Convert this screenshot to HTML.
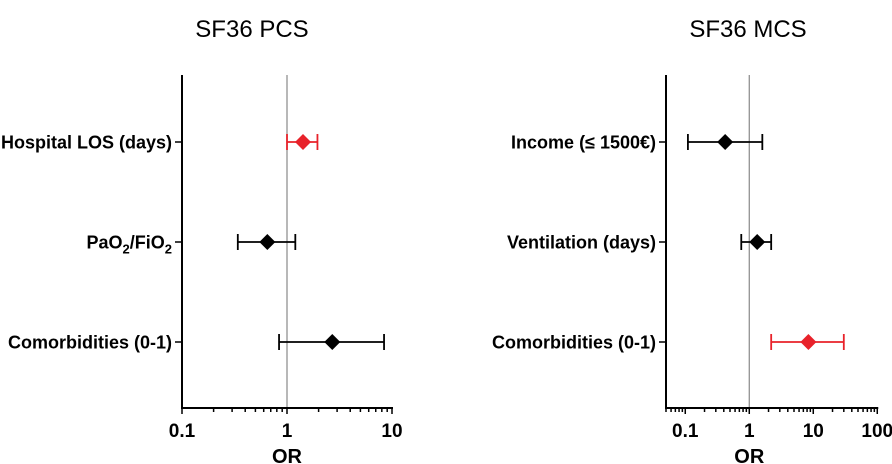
<!DOCTYPE html>
<html><head><meta charset="utf-8"><style>
body{margin:0;background:#fff;}
svg{display:block;font-family:"Liberation Sans",Arial,sans-serif;}
</style></head><body>
<svg id="c" width="892" height="464"></svg>
<script>
const pcsCategories=["Hospital LOS (days)","PaO2/FiO2","Comorbidities (0-1)"];
const pcsOR=[1.42,0.65,2.7];
const pcsLow=[1.0,0.34,0.84];
const pcsHigh=[1.95,1.2,8.4];
const pcsRed=[true,false,false];
const pcsTicks=[0.1,1,10];
const mcsCategories=["Income (≤ 1500€)","Ventilation (days)","Comorbidities (0-1)"];
const mcsOR=[0.42,1.33,8.4];
const mcsLow=[0.11,0.75,2.2];
const mcsHigh=[1.6,2.2,30];
const mcsRed=[false,false,true];
const mcsTicks=[0.1,1,10,100];

const NS="http://www.w3.org/2000/svg";
const svg=document.getElementById('c');
function mk(tag,attrs,parent){const e=document.createElementNS(NS,tag);for(const k in attrs)e.setAttribute(k,attrs[k]);(parent||svg).appendChild(e);return e;}
const rowsY=[142,242,342];
const yTop=75,yBase=408;

function panel(cfg){
  const g=mk('g',{});
  
  
  const xs=v=>cfg.x0+(Math.log10(v)-Math.log10(cfg.min))*cfg.dec;
  const xAxisStart=cfg.x0, xAxisEnd=xs(cfg.max);
  const t=mk('text',{x:cfg.titleX,y:37,'font-size':24,'text-anchor':'middle',fill:'#000'},g);
  t.textContent=cfg.title;
  
  
  const r=mk('line',{x1:xs(1),x2:xs(1),y1:yTop,y2:yBase,stroke:'#888','stroke-width':1.2},g);
  
  
  const ya=mk('line',{x1:xAxisStart,x2:xAxisStart,y1:yTop,y2:yBase+1,stroke:'#000','stroke-width':2},g);
  
  
  const xa=mk('line',{x1:xAxisStart-1,x2:xAxisEnd+1,y1:yBase,y2:yBase,stroke:'#000','stroke-width':2},g);
  
  
  for(let d=Math.floor(Math.log10(cfg.min));d<Math.log10(cfg.max);d++){
    for(let m=1;m<=9;m++){const v=m*Math.pow(10,d);if(v<cfg.min-1e-9||v>cfg.max+1e-9)continue;
      const major=(m===1);
      const tk=mk('line',{x1:xs(v),x2:xs(v),y1:yBase,y2:yBase+(major?6:4),stroke:'#000','stroke-width':1.5},g);
      
      }
  }
  const te=mk('line',{x1:xs(cfg.max),x2:xs(cfg.max),y1:yBase,y2:yBase+6,stroke:'#000','stroke-width':1.5},g);
  
  
  cfg.ticks.forEach(v=>{
    const l=mk('text',{x:xs(v),y:437,'font-size':19,'font-weight':'bold','text-anchor':'middle'},g);
    l.textContent=String(v);
    
    
  });
  const ot=mk('text',{x:xs(1),y:463,'font-size':20,'font-weight':'bold','text-anchor':'middle'},g);
  ot.textContent='OR';
  
  
  cfg.cats.forEach((c,i)=>{
    const y=rowsY[i];
    const tk=mk('line',{x1:xAxisStart-7,x2:xAxisStart,y1:y,y2:y,stroke:'#000','stroke-width':1.5},g);
    
    
    const lb=mk('text',{x:xAxisStart-10,y:y+6.5,'font-size':18,'font-weight':'bold','text-anchor':'end'},g);
    if(c==="PaO2/FiO2"){
      lb.innerHTML='PaO<tspan font-size="13" dy="5">2</tspan><tspan dy="-5">/FiO</tspan><tspan font-size="13" dy="5">2</tspan>';
    } else lb.textContent=c;
    
    
    const col=cfg.red[i]?'#e8222a':'#000';
    const a=xs(cfg.low[i]),b=xs(cfg.high[i]),p=xs(cfg.or[i]);
    const eg=mk('g',{},g);
    
    
    mk('line',{x1:a,x2:b,y1:y,y2:y,stroke:col,'stroke-width':1.8},eg);
    mk('line',{x1:a,x2:a,y1:y-8,y2:y+8,stroke:col,'stroke-width':1.8},eg);
    mk('line',{x1:b,x2:b,y1:y-8,y2:y+8,stroke:col,'stroke-width':1.8},eg);
    const dm=mk('polygon',{points:`${p-8},${y} ${p},${y-8} ${p+8},${y} ${p},${y+8}`,fill:col},g);
    
    
  });
}
panel({name:'pcs-panel',title:'SF36 PCS',titleX:252,x0:182,dec:105,min:0.1,max:10,ticks:pcsTicks,cats:pcsCategories,or:pcsOR,low:pcsLow,high:pcsHigh,red:pcsRed});
panel({name:'mcs-panel',title:'SF36 MCS',titleX:748,x0:666,dec:64,min:0.05,max:100,ticks:mcsTicks,cats:mcsCategories,or:mcsOR,low:mcsLow,high:mcsHigh,red:mcsRed});
</script>
</body></html>
